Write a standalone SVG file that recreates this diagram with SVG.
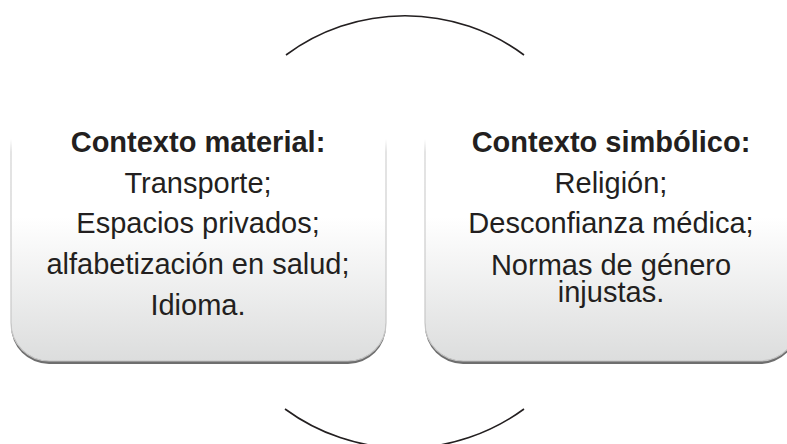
<svg xmlns="http://www.w3.org/2000/svg" width="787" height="444" viewBox="0 0 787 444">
<style>
.t{font-family:"Liberation Sans",Arial,sans-serif;font-size:29px;fill:#231f20;text-anchor:middle}
.b{font-weight:bold}
.arc{fill:none;stroke:#231f20;stroke-width:1.6}
.shadow{fill:#6e6e6e}
.box{fill:url(#gf);stroke:url(#gs);stroke-width:1.2}
</style>
<defs>
<linearGradient id="gf" gradientUnits="userSpaceOnUse" x1="0" y1="100" x2="0" y2="361">
<stop offset="0" stop-color="#ffffff"/>
<stop offset="0.45" stop-color="#ffffff"/>
<stop offset="1" stop-color="#dcdddd"/>
</linearGradient>
<linearGradient id="gs" gradientUnits="userSpaceOnUse" x1="0" y1="100" x2="0" y2="361">
<stop offset="0" stop-color="#cfcfcf" stop-opacity="0"/>
<stop offset="0.15" stop-color="#cfcfcf" stop-opacity="0"/>
<stop offset="0.2" stop-color="#d2d2d2" stop-opacity="1"/>
<stop offset="1" stop-color="#c4c4c4" stop-opacity="1"/>
</linearGradient>
</defs>
<g id="connectors">
<path class="arc" d="M286,55 A200,200 0 0 1 524,55"/>
<path class="arc" d="M285,409 A202,202 0 0 0 524,409"/>
</g>
<g id="node-material">
<path class="shadow" d="M11,103 H386 V326 A38,38 0 0 1 348,364 H49 A38,38 0 0 1 11,326 Z"/>
<path class="box" d="M11,100 H386 V323 A38,38 0 0 1 348,361 H49 A38,38 0 0 1 11,323 Z"/>
<text class="t b" x="198" y="152">Contexto material:</text>
<text class="t" x="198" y="193">Transporte;</text>
<text class="t" x="198" y="233">Espacios privados;</text>
<text class="t" x="198" y="274">alfabetización en salud;</text>
<text class="t" x="198" y="315">Idioma.</text>
</g>
<g id="node-simbolico">
<path class="shadow" d="M425,103 H798 V326 A38,38 0 0 1 760,364 H463 A38,38 0 0 1 425,326 Z"/>
<path class="box" d="M425,100 H798 V323 A38,38 0 0 1 760,361 H463 A38,38 0 0 1 425,323 Z"/>
<text class="t b" x="611" y="152">Contexto simbólico:</text>
<text class="t" x="611" y="193">Religión;</text>
<text class="t" x="611" y="233">Desconfianza médica;</text>
<text class="t" x="611" y="275">Normas de género</text>
<text class="t" x="611" y="302">injustas.</text>
</g>
</svg>
